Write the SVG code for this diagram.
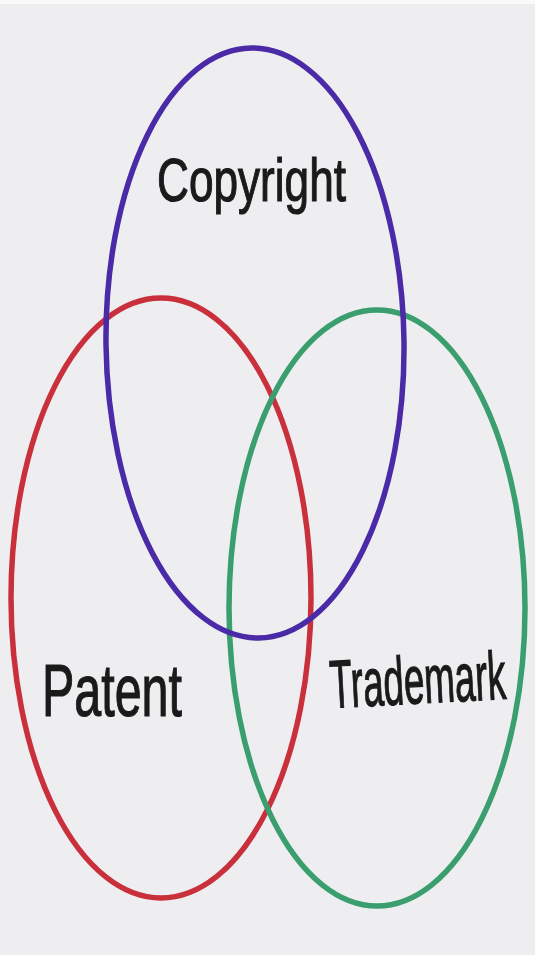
<svg xmlns="http://www.w3.org/2000/svg" width="535" height="955" viewBox="0 0 535 955">
  <style>
    .ring { fill: none; stroke-width: 5.5; }
    .label { font-family: "Liberation Sans", "DejaVu Sans", sans-serif; fill: #1a1a1a; stroke: #1a1a1a; stroke-width: 1.2; font-weight: normal; }
  </style>
  <rect x="0" y="0" width="535" height="955" fill="#eeeef0"/>
  <rect x="0" y="0" width="535" height="4" fill="#fafafa"/>
  <g id="patent">
    <ellipse class="ring" cx="161" cy="598" rx="150" ry="300" stroke="#c9303c"/>
    <text class="label" x="42" y="716" font-size="74" textLength="140" lengthAdjust="spacingAndGlyphs">Patent</text>
  </g>
  <g id="trademark">
    <ellipse class="ring" cx="377" cy="608" rx="148" ry="298" stroke="#3a9e6e"/>
    <text class="label" x="331" y="708" font-size="68" textLength="176" lengthAdjust="spacingAndGlyphs" transform="rotate(-3 331 708)">Trademark</text>
  </g>
  <g id="copyright">
    <ellipse class="ring" cx="255" cy="343" rx="149" ry="295" stroke="#4a2aa6" transform="rotate(-0.7 255 343)"/>
    <text class="label" x="157" y="201" font-size="62" textLength="189" lengthAdjust="spacingAndGlyphs">Copyright</text>
  </g>
</svg>
